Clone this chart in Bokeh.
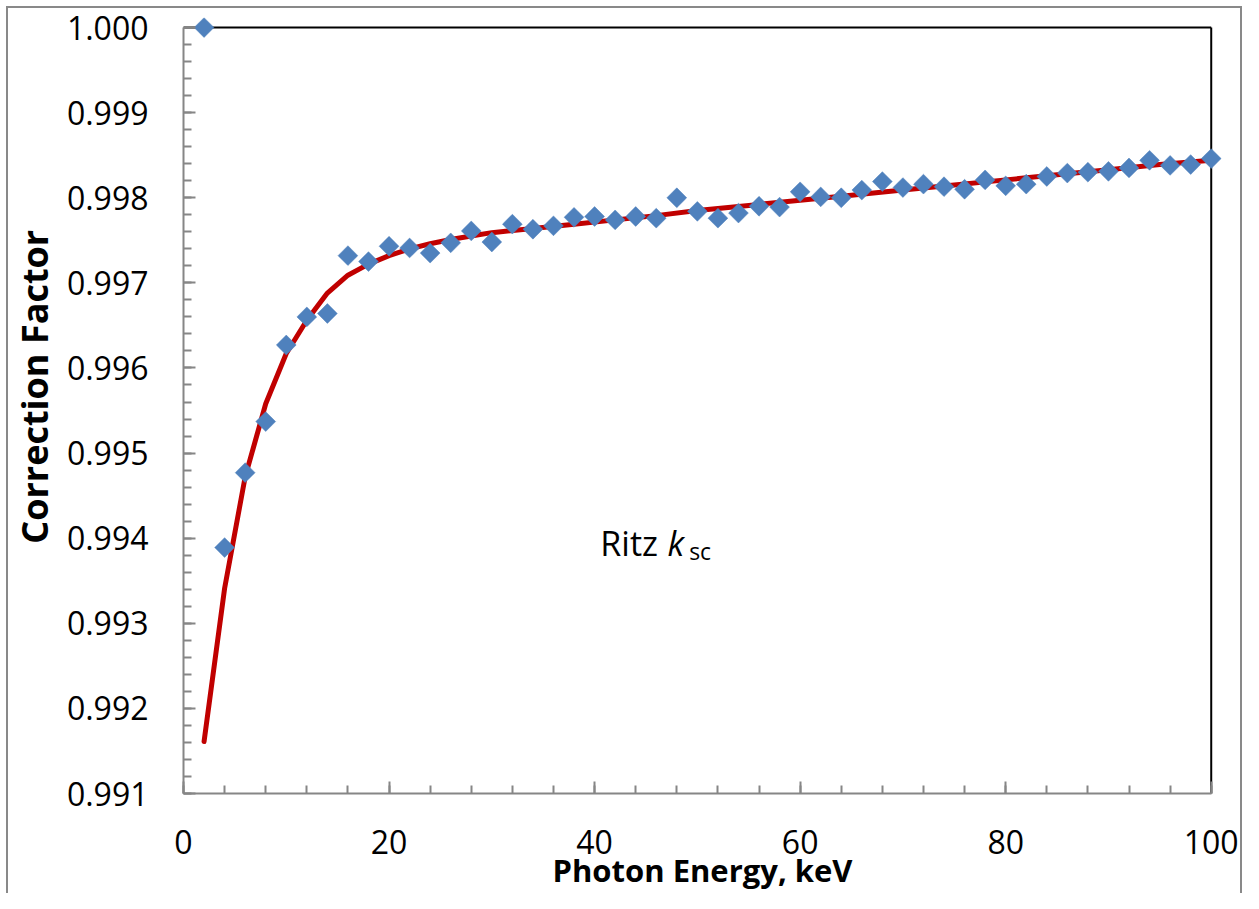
import numpy as np
from bokeh.plotting import figure
from bokeh.models import Range1d, SingleIntervalTicker, NumeralTickFormatter, Label
from bokeh.embed import file_html
from bokeh.resources import INLINE

# Monte Carlo correction factor (points)
energy_keV = list(range(2, 101, 2))
ksc_values = [1.00000, 0.99389, 0.99477, 0.99537, 0.99627, 0.99660, 0.99664, 0.99732, 0.99725, 0.99743,
              0.99741, 0.99735, 0.99747, 0.99761, 0.99748, 0.99769, 0.99763, 0.99767, 0.99777, 0.99778,
              0.99774, 0.99778, 0.99776, 0.99800, 0.99784, 0.99776, 0.99782, 0.99790, 0.99789, 0.99807,
              0.99801, 0.99800, 0.99809, 0.99819, 0.99812, 0.99816, 0.99813, 0.99810, 0.99821, 0.99814,
              0.99816, 0.99825, 0.99829, 0.99830, 0.99831, 0.99835, 0.99844, 0.99838, 0.99839, 0.99846]

# Fitted curve
fit_energy = [2, 4, 6, 8, 10, 12, 14, 16, 18, 20, 22, 24, 26, 28, 30, 34, 38, 42, 46, 50,
              55, 60, 65, 70, 75, 80, 85, 90, 95, 100]
fit_values = [0.99161, 0.99341, 0.99472, 0.99558, 0.99617, 0.99656, 0.99688, 0.99709, 0.99722, 0.99732,
              0.99740, 0.99746, 0.99751, 0.99755, 0.99759, 0.99764, 0.99769, 0.99774, 0.99779, 0.99785,
              0.99791, 0.99797, 0.99803, 0.99809, 0.99815, 0.99821, 0.99827, 0.99833, 0.99839, 0.99844]

# axis limits
x_min, x_max = 0, 100
y_min, y_max = 0.991, 1.000

x_title = "Photon Energy, keV"
y_title = "Correction Factor"

AXIS_GRAY = "#868686"
FONT = "Open Sans"
W, H = 1243, 893
G = "linear-gradient(#898989,#898989)"

p = figure(width=W, height=H, output_backend="svg", toolbar_location=None,
           x_range=Range1d(x_min, x_max + 1.0), y_range=Range1d(y_min, y_max + 0.000118),
           min_border_left=183, min_border_right=22, min_border_top=17, min_border_bottom=100)
p.outline_line_color = None
p.grid.visible = False
p.background_fill_color = "white"
p.border_fill_color = None
p.styles = {"background": (f"{G} left 6px top 6px / 2px 100% no-repeat, "
                           f"{G} left 6px top 6px / calc(100% - 7px) 2px no-repeat, "
                           f"{G} right 1px top 6px / 2px 100% no-repeat, white")}

p.xaxis.ticker = SingleIntervalTicker(interval=20, num_minor_ticks=5)
p.yaxis.ticker = SingleIntervalTicker(interval=0.001, num_minor_ticks=5)
p.yaxis.formatter = NumeralTickFormatter(format="0.000")
p.xaxis.bounds = (x_min, x_max)
p.yaxis.bounds = (y_min, y_max)

for ax in (p.xaxis, p.yaxis):
    ax.axis_line_color = AXIS_GRAY
    ax.axis_line_width = 2
    ax.major_tick_line_color = AXIS_GRAY
    ax.major_tick_line_width = 2
    ax.minor_tick_line_color = AXIS_GRAY
    ax.minor_tick_line_width = 2
    ax.major_tick_in = 12
    ax.major_tick_out = 0
    ax.minor_tick_in = 8
    ax.minor_tick_out = 0
    ax.major_label_text_font = FONT
    ax.major_label_text_font_size = "32px"
    ax.major_label_text_color = "black"
    ax.axis_label_text_font = FONT
    ax.axis_label_text_font_style = "bold"
    ax.axis_label_text_color = "black"

p.xaxis.axis_label = x_title
p.xaxis.axis_label_text_font_size = "31px"
p.xaxis.major_label_standoff = 36
p.xaxis.axis_label_standoff = -8

p.yaxis.axis_label = "\u00a0" * 4 + y_title
p.yaxis.axis_label_text_font_size = "36px"
p.yaxis.major_label_standoff = 35
p.yaxis.axis_label_standoff = 5

# top and right frame lines
p.segment(x0=[x_min, x_max], y0=[y_max, y_min], x1=[x_max, x_max], y1=[y_max, y_max],
          line_color="black", line_width=2)

p.line(fit_energy, fit_values, line_color="#C00000", line_width=5, line_cap="round", line_join="round")
p.scatter(energy_keV, ksc_values, marker="square", size=14, angle=np.pi / 4,
          fill_color="#4F81BD", line_color="#4F81BD", line_width=0.5)

# annotation
p.add_layout(Label(x=40.56, y=0.99394, text="Ritz", text_font=FONT, text_font_size="34px",
                   text_color="black", text_baseline="alphabetic"))
p.add_layout(Label(x=47.1, y=0.99394, text="k", text_font=FONT, text_font_size="34px",
                   text_font_style="italic", text_color="black", text_baseline="alphabetic"))
p.add_layout(Label(x=49.2, y=0.99385, text="sc", text_font=FONT, text_font_size="23px",
                   text_color="black", text_baseline="alphabetic"))

open("out.html", "w").write(file_html(p, INLINE))
